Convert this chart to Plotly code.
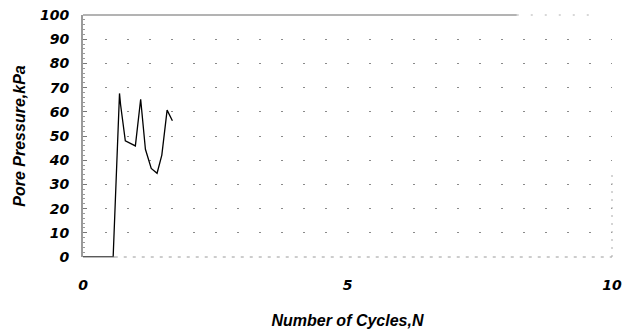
import plotly.graph_objects as go

# Pore pressure build-up against number of loading cycles
cycles = [0.0, 0.57, 0.69, 0.71, 0.80, 0.99, 1.09, 1.18, 1.29, 1.40, 1.49, 1.59, 1.69]
pore_pressure = [0, 0, 67.6, 63, 48, 45.9, 65.2, 44.5, 36.6, 34.6, 42.1, 60.7, 56.3]

x_ticks = [0, 5, 10]
y_ticks = [0, 10, 20, 30, 40, 50, 60, 70, 80, 90, 100]


def heavy(v):
    return f"<b><i>{v}</i></b>"


label_font = dict(family="DejaVu Sans", size=14, color="black")
title_font = dict(family="Liberation Sans", size=16, color="black", weight="bold", style="italic")

fig = go.Figure()
fig.add_trace(go.Scatter(
    x=cycles, y=pore_pressure, mode="lines",
    line=dict(color="black", width=1.3),
    showlegend=False, hoverinfo="skip",
))

fig.update_layout(
    width=632, height=332,
    margin=dict(l=83, r=20, t=15, b=75),
    paper_bgcolor="white", plot_bgcolor="white",
    xaxis=dict(
        range=[0, 10], tickvals=x_ticks, ticktext=[heavy(v) for v in x_ticks],
        showgrid=False, zeroline=False, showline=False, automargin=False,
        ticks="", ticklabelstandoff=18, tickfont=label_font,
        title=dict(text="Number of Cycles,N", font=title_font, standoff=22),
    ),
    yaxis=dict(
        range=[0, 100], tickvals=y_ticks, ticktext=[heavy(v) for v in y_ticks],
        showgrid=True, gridcolor="#8a8a8a", gridwidth=1, griddash="2px,20px",
        zeroline=False, showline=True, linecolor="#9a9a9a", linewidth=2,
        automargin=False,
        ticks="inside", ticklen=4, tickcolor="#777777",
        minor=dict(dtick=2, ticks="inside", ticklen=2, tickcolor="#999999", showgrid=False),
        ticklabelstandoff=9, tickfont=label_font,
        title=dict(text="Pore Pressure,kPa", font=title_font, standoff=10),
    ),
    shapes=[
        # top frame edge
        dict(type="line", xref="paper", yref="paper", x0=0, x1=0.82, y0=1, y1=1,
             line=dict(color="#9a9a9a", width=1.5)),
        dict(type="line", xref="paper", yref="paper", x0=0.82, x1=0.97, y0=1, y1=1,
             line=dict(color="#b0b0b0", width=1, dash="2px,12px")),
        # bottom frame edge
        dict(type="line", xref="paper", yref="paper", x0=0, x1=0.06, y0=0, y1=0,
             line=dict(color="#777777", width=1)),
        dict(type="line", xref="paper", yref="paper", x0=0.06, x1=1, y0=0, y1=0,
             line=dict(color="#9a9a9a", width=1, dash="3px,6px")),
        # right frame edge
        dict(type="line", xref="paper", yref="paper", x0=1, x1=1, y0=0, y1=0.35,
             line=dict(color="#aaaaaa", width=1, dash="2px,6px")),
    ],
)

fig.write_html("out.html")
